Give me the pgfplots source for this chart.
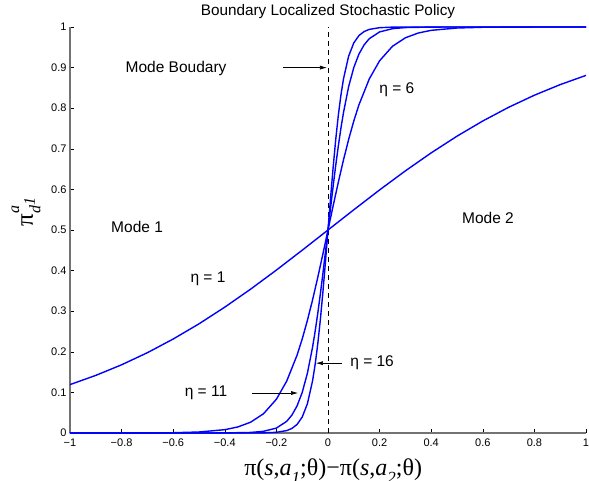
\documentclass[border=0pt]{standalone}
\usepackage{pgfplots}
\pgfplotsset{compat=1.18}
\usetikzlibrary{arrows.meta}
\usepackage{fontspec}
\setmainfont{Liberation Sans}
\newfontfamily\serif{Liberation Serif}
\begin{document}
\begin{tikzpicture}
\begin{axis}[
  width=516pt,height=406pt,scale only axis,
  xmin=-1,xmax=1,ymin=0,ymax=1,
  axis x line*=bottom,axis y line*=left,
  axis line style={-,black!55,line width=1.1pt},
  tick align=inside,major tick length=4pt,
  tick style={black,line width=0.6pt},
  xtick={-1,-0.8,-0.6,-0.4,-0.2,0,0.2,0.4,0.6,0.8,1},
  xticklabels={−1,−0.8,−0.6,−0.4,−0.2,0,0.2,0.4,0.6,0.8,1},
  ytick={0,0.1,0.2,0.3,0.4,0.5,0.6,0.7,0.8,0.9,1},
  yticklabels={0,0.1,0.2,0.3,0.4,0.5,0.6,0.7,0.8,0.9,1},
  tick label style={font=\fontsize{11}{11}\selectfont},
  xticklabel style={yshift=-2pt},
  title={Boundary Localized Stochastic Policy},
  title style={font=\fontsize{15.3}{15.3}\selectfont,at={(axis description cs:0.5,1)},anchor=base,yshift=5pt},
  xlabel={\serif π(\textit{s},\textit{a}\raisebox{-0.35em}{\fontsize{17}{17}\selectfont\textit{1}};θ)−π(\textit{s},\textit{a}\raisebox{-0.35em}{\fontsize{17}{17}\selectfont\textit{2}};θ)},
  xlabel style={font=\fontsize{24}{24}\selectfont,at={(axis description cs:0.51,0)},anchor=base,yshift=-42pt},
  clip=false,
]
\draw[black,line width=0.7pt,dash pattern=on 5pt off 4pt] (axis cs:0,0) -- (axis cs:0,1);
% eta = 1
\addplot[blue,line width=1.4pt,no markers] coordinates {(-1,0.1192)(-0.9,0.1419)(-0.8,0.1680)(-0.7,0.1978)(-0.6,0.2315)(-0.5,0.2689)(-0.4,0.3100)(-0.3,0.3543)(-0.2,0.4013)(-0.1,0.4502)(0,0.5)(0.1,0.5498)(0.2,0.5987)(0.3,0.6457)(0.4,0.6900)(0.5,0.7311)(0.6,0.7685)(0.7,0.8022)(0.8,0.8320)(0.9,0.8581)(1,0.8808)};
% eta = 6
\addplot[blue,line width=1.4pt,no markers] coordinates {(-1,0.0000)(-0.8,0.0001)(-0.6,0.0007)(-0.5,0.0025)(-0.4,0.0082)(-0.35,0.0148)(-0.3,0.0266)(-0.25,0.0474)(-0.2,0.0832)(-0.16,0.1279)(-0.12,0.1915)(-0.1,0.2315)(-0.08,0.2769)(-0.06,0.3274)(-0.04,0.3823)(-0.02,0.4403)(0,0.5)(0.02,0.5597)(0.04,0.6177)(0.06,0.6726)(0.08,0.7231)(0.1,0.7685)(0.12,0.8085)(0.16,0.8721)(0.2,0.9168)(0.25,0.9526)(0.3,0.9734)(0.35,0.9852)(0.4,0.9918)(0.5,0.9975)(0.6,0.9993)(0.8,0.9999)(1,1.0000)};
% eta = 11
\addplot[blue,line width=1.4pt,no markers] coordinates {(-1,0)(-0.5,0.0000)(-0.4,0.0002)(-0.3,0.0014)(-0.25,0.0041)(-0.2,0.0121)(-0.16,0.0288)(-0.14,0.0440)(-0.12,0.0666)(-0.1,0.0998)(-0.08,0.1468)(-0.06,0.2108)(-0.05,0.2497)(-0.04,0.2932)(-0.03,0.3407)(-0.02,0.3917)(-0.01,0.4452)(0,0.5)(0.01,0.5548)(0.02,0.6083)(0.03,0.6593)(0.04,0.7068)(0.05,0.7503)(0.06,0.7892)(0.08,0.8532)(0.1,0.9002)(0.12,0.9334)(0.14,0.9560)(0.16,0.9712)(0.2,0.9879)(0.25,0.9959)(0.3,0.9986)(0.4,0.9998)(0.5,1.0000)(1,1)};
% eta = 16
\addplot[blue,line width=1.4pt,no markers] coordinates {(-1,0)(-0.4,0.0000)(-0.3,0.0001)(-0.25,0.0003)(-0.2,0.0017)(-0.16,0.0059)(-0.14,0.0112)(-0.12,0.0210)(-0.1,0.0392)(-0.08,0.0717)(-0.06,0.1279)(-0.05,0.1680)(-0.04,0.2176)(-0.03,0.2769)(-0.02,0.3452)(-0.01,0.4207)(0,0.5)(0.01,0.5793)(0.02,0.6548)(0.03,0.7231)(0.04,0.7824)(0.05,0.8320)(0.06,0.8721)(0.08,0.9283)(0.1,0.9608)(0.12,0.9790)(0.14,0.9888)(0.16,0.9941)(0.2,0.9983)(0.25,0.9997)(0.3,0.9999)(0.4,1.0000)(1,1)};
\begin{scope}[font=\fontsize{15.5}{15.5}\selectfont]
\node at (axis cs:-0.589,0.899) {Mode Boudary};
\node at (axis cs:0.267,0.845) {η = 6};
\node at (axis cs:-0.74,0.507) {Mode 1};
\node at (axis cs:0.62,0.53) {Mode 2};
\node at (axis cs:-0.465,0.379) {η = 1};
\node at (axis cs:0.171,0.172) {η = 16};
\node at (axis cs:-0.473,0.0985) {η = 11};
\end{scope}
\draw[black,line width=0.6pt,-{Latex[length=7pt,width=4pt]}] (axis cs:-0.174,0.9) -- (axis cs:-0.004,0.9);
\draw[black,line width=0.6pt,-{Latex[length=7pt,width=4pt]}] (axis cs:0.054,0.172) -- (axis cs:-0.047,0.172);
\draw[black,line width=0.6pt,-{Latex[length=7pt,width=4pt]}] (axis cs:-0.295,0.0985) -- (axis cs:-0.116,0.0985);
\node[rotate=90,font=\serif\fontsize{25}{25}\selectfont] at (axis description cs:-0.085,0.545)
  {π\rlap{\raisebox{0.55em}{\fontsize{16}{16}\selectfont\textit{a}}}\raisebox{-0.3em}{\fontsize{16}{16}\selectfont\textit{d}\raisebox{0.35em}{\textit{1}}}};
\end{axis}
\pgfresetboundingbox
\path[use as bounding box] (-70pt,-47pt) rectangle (519pt,433pt);
\end{tikzpicture}
\end{document}
